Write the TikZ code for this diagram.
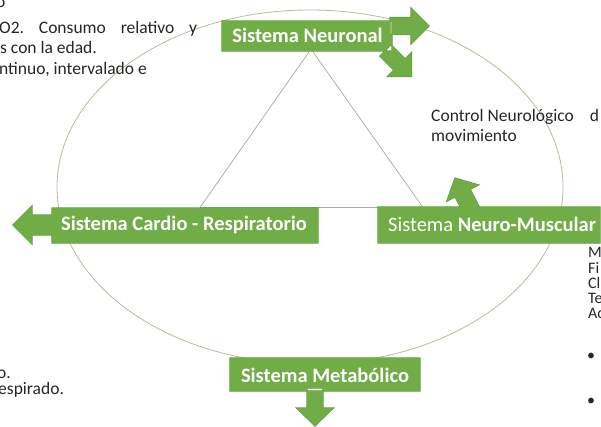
\documentclass[tikz,border=0pt]{standalone}
\usepackage{fontspec}
\setmainfont{Carlito}
\definecolor{boxgreen}{HTML}{70AD47}
\definecolor{boxborder}{HTML}{5B9A3A}
\definecolor{ringcol}{HTML}{B9BC9C}
\definecolor{tricol}{HTML}{A9AA99}
\definecolor{txt}{HTML}{262626}
\frenchspacing
\begin{document}
\begin{tikzpicture}[x=1pt,y=-1pt,
  boxfill/.style={fill=boxgreen},
  boxline/.style={draw=boxborder,line width=1.1pt,line join=miter},
  boxlabel/.style={text=white,font=\fontsize{20.5}{24}\selectfont\bfseries,inner sep=0pt,anchor=base},
  bodytext/.style={text=txt,font=\fontsize{17.5}{21}\selectfont,inner sep=0pt,anchor=base west},
  sidetext/.style={text=txt,font=\fontsize{16}{19}\selectfont,inner sep=0pt,anchor=base west},
  neuroshape/.style={insert path={(222,21) rectangle (392,51)
    (390,17.5) -- (411,17.5) -- (411,8) -- (429,26) -- (411,44) -- (411,34.5) -- (390,34.5) -- cycle
    (391.1,44.7) -- (405.2,58.8) -- (411.5,52.5) -- (411.5,76.5) -- (387.5,76.5) -- (393.8,70.2) -- (379.7,56.1) -- cycle}},
  cardioshape/.style={insert path={(52,208) rectangle (318,243)
    (55,215) -- (32,215) -- (32,206) -- (13,225) -- (32,244) -- (32,235) -- (55,235) -- cycle}},
  muscshape/.style={insert path={(378,207) rectangle (600,243)
    (478.9,206.1) -- (470.3,189.2) -- (478.7,184.9) -- (455,178) -- (446.7,201.3) -- (455.1,197.0) -- (463.7,213.9) -- cycle}},
  metashape/.style={insert path={(230,358) rectangle (420,391)
    (307,388) -- (323,388) -- (323,408) -- (333.5,408) -- (315,426) -- (296.5,408) -- (307,408) -- cycle}}
]
\useasboundingbox[fill=white] (0,0) rectangle (601,426);

% ring and triangle
\draw[ringcol,line width=0.8pt] (310,187) ellipse [x radius=253, y radius=177];
\coordinate (apex) at (311,49);
\coordinate (tl) at (200,207.5);
\coordinate (tr) at (423,207.5);
\draw[tricol,line width=0.7pt] (apex) -- (tl) -- (tr) -- cycle;

% green blocks: outlines first, then fills
\path[boxline, neuroshape];
\path[boxline, cardioshape];
\path[boxline, muscshape];
\path[boxline, metashape];
\path[boxfill, neuroshape];
\path[boxfill, cardioshape];
\path[boxfill, muscshape];
\path[boxfill, metashape];

\node[boxlabel] (neuronal) at (307.5,42) {Sistema Neuronal};
\node[boxlabel] (cardio) at (184,230) {Sistema Cardio - Respiratorio};
\node[boxlabel,anchor=base west] (muscular) at (388,231) {\mdseries Sistema \bfseries Neuro-Muscular};
\node[boxlabel] (metabolico) at (325,382) {Sistema Metabólico};

% background text
\node[bodytext] (t1) at (-4,7) {o};
\node[bodytext] (t2) at (-1,33) {\makebox[198pt][s]{O2. Consumo relativo y}};
\node[bodytext] (t3) at (0,53) {s con la edad.};
\node[bodytext] (t4) at (-1,74) {ntinuo, intervalado e};
\node[bodytext] (t5) at (-3,378) {o.};
\node[bodytext] (t6) at (-2,394) {espirado.};

\node[bodytext] (r1) at (431,121) {\makebox[168pt][l]{Control Neurológico\hfill d}};
\node[bodytext] (r2) at (431,141) {movimiento};

\node[sidetext] (s1) at (588,257) {M};
\node[sidetext] (s2) at (588,273) {Fi};
\node[sidetext] (s3) at (588,288) {Cl};
\node[sidetext] (s4) at (588,303) {Te};
\node[sidetext] (s5) at (588,318) {Ac};
\node[sidetext] (s6) at (587,360) {•};
\node[sidetext] (s7) at (587,405) {•};
\end{tikzpicture}
\end{document}
